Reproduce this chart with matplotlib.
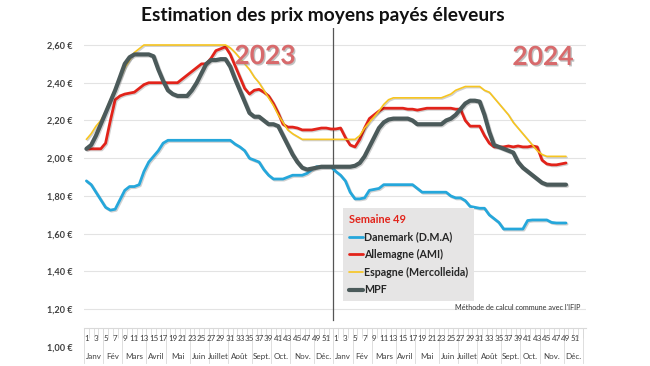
import matplotlib
matplotlib.use("Agg")
import matplotlib.pyplot as plt
import matplotlib.patheffects as pe
import numpy as np

plt.rcParams['font.family'] = ['Lato', 'DejaVu Sans']

# ---- data (weekly prices, 2023 week 1 .. 2024 week 49) ----
danemark = [1.88, 1.86, 1.82, 1.78, 1.74, 1.725, 1.73, 1.78, 1.83, 1.85,
            1.85, 1.86, 1.93, 1.98, 2.01, 2.04, 2.08, 2.095, 2.095, 2.095,
            2.095, 2.095, 2.095, 2.095, 2.095, 2.095, 2.095, 2.095, 2.095, 2.095,
            2.095, 2.075, 2.06, 2.04, 2.00, 1.99, 1.98, 1.94, 1.91, 1.89,
            1.89, 1.89, 1.90, 1.91, 1.91, 1.91, 1.92, 1.94, 1.955, 1.955,
            1.955, 1.955, 1.93, 1.91, 1.88, 1.82, 1.785, 1.785, 1.79, 1.83,
            1.835, 1.84, 1.86, 1.86, 1.86, 1.86, 1.86, 1.86, 1.86, 1.84,
            1.82, 1.82, 1.82, 1.82, 1.82, 1.82, 1.80, 1.79, 1.79, 1.775,
            1.745, 1.74, 1.735, 1.735, 1.70, 1.68, 1.66, 1.625, 1.625, 1.625,
            1.625, 1.625, 1.67, 1.673, 1.673, 1.673, 1.673, 1.66, 1.657, 1.657, 1.657]

allemagne = [2.05, 2.05, 2.05, 2.05, 2.08, 2.20, 2.31, 2.33, 2.34, 2.345,
             2.35, 2.37, 2.39, 2.40, 2.40, 2.40, 2.40, 2.40, 2.40, 2.40,
             2.42, 2.44, 2.46, 2.48, 2.50, 2.50, 2.53, 2.57, 2.58, 2.59,
             2.55, 2.49, 2.43, 2.37, 2.34, 2.36, 2.365, 2.35, 2.33, 2.29,
             2.24, 2.18, 2.165, 2.165, 2.16, 2.15, 2.15, 2.15, 2.155, 2.16,
             2.16, 2.155, 2.155, 2.16, 2.11, 2.07, 2.06, 2.10, 2.16, 2.21,
             2.23, 2.25, 2.265, 2.265, 2.265, 2.265, 2.265, 2.26, 2.26, 2.255,
             2.26, 2.265, 2.265, 2.265, 2.265, 2.265, 2.265, 2.26, 2.26, 2.20,
             2.17, 2.17, 2.17, 2.12, 2.08, 2.06, 2.06, 2.06, 2.065, 2.06,
             2.065, 2.06, 2.06, 2.065, 2.06, 1.99, 1.97, 1.965, 1.965, 1.97, 1.975]

espagne = [2.10, 2.13, 2.17, 2.20, 2.25, 2.31, 2.37, 2.42, 2.48, 2.52,
           2.56, 2.58, 2.60, 2.60, 2.60, 2.60, 2.60, 2.60, 2.60, 2.60,
           2.60, 2.60, 2.60, 2.60, 2.60, 2.60, 2.60, 2.60, 2.60, 2.60,
           2.585, 2.56, 2.53, 2.50, 2.47, 2.43, 2.40, 2.36, 2.32, 2.28,
           2.23, 2.19, 2.15, 2.13, 2.115, 2.10, 2.10, 2.10, 2.10, 2.10,
           2.10, 2.10, 2.10, 2.10, 2.10, 2.10, 2.10, 2.12, 2.16, 2.19,
           2.22, 2.25, 2.285, 2.31, 2.32, 2.32, 2.32, 2.32, 2.32, 2.32,
           2.32, 2.32, 2.32, 2.32, 2.32, 2.33, 2.34, 2.36, 2.37, 2.38,
           2.38, 2.38, 2.38, 2.36, 2.35, 2.32, 2.29, 2.26, 2.23, 2.19,
           2.16, 2.13, 2.10, 2.07, 2.04, 2.02, 2.01, 2.01, 2.01, 2.01, 2.01]

mpf = [2.05, 2.07, 2.12, 2.18, 2.24, 2.30, 2.36, 2.43, 2.50, 2.535,
       2.55, 2.55, 2.55, 2.55, 2.54, 2.47, 2.41, 2.36, 2.34, 2.33,
       2.33, 2.33, 2.36, 2.40, 2.45, 2.50, 2.52, 2.52, 2.525, 2.525,
       2.485, 2.42, 2.36, 2.30, 2.24, 2.22, 2.22, 2.20, 2.18, 2.18,
       2.17, 2.12, 2.07, 2.02, 1.98, 1.95, 1.94, 1.945, 1.95, 1.955,
       1.955, 1.955, 1.955, 1.955, 1.955, 1.955, 1.96, 1.975, 2.01, 2.06,
       2.11, 2.16, 2.19, 2.205, 2.21, 2.21, 2.21, 2.21, 2.20, 2.18,
       2.18, 2.18, 2.18, 2.18, 2.18, 2.20, 2.21, 2.23, 2.26, 2.29,
       2.305, 2.305, 2.30, 2.23, 2.14, 2.07, 2.06, 2.05, 2.04, 2.03,
       1.98, 1.95, 1.93, 1.91, 1.89, 1.87, 1.86, 1.86, 1.86, 1.86, 1.86]

series_names = ["Danemark (D.M.A)", "Allemagne (AMI)", "Espagne (Mercolleida)", "MPF"]
series_colors = ["#25a7db", "#e2231a", "#f7c520", "#4b5a5a"]
series_widths = [2.0, 2.0, 1.2, 3.0]

weeks_per_year = 52
week_labels = [str(w) if w % 2 == 1 else "" for w in range(1, 53)] * 2
months = ["Janv", "Fév", "Mars", "Avril", "Mai", "Juin", "Juillet", "Août",
          "Sept.", "Oct.", "Nov.", "Déc."]
month_weeks = [4, 4, 5, 4, 5, 4, 4, 5, 4, 4, 5, 4]
yticks = [1.0, 1.2, 1.4, 1.6, 1.8, 2.0, 2.2, 2.4, 2.6]

# ---- figure ----
fig = plt.figure(figsize=(6.5, 3.66), dpi=100)
W, H = 650, 366
ax = fig.add_axes([84 / W, 1 - 347 / H, (586 - 84) / W, (347 - 28) / H])
ax.set_xlim(-0.42, 104.17)
ax.set_ylim(1.0, 2.69)

x = np.arange(len(mpf))
data = [danemark, allemagne, espagne, mpf]
handles = []
for vals, name, col, lw in zip(data, series_names, series_colors, series_widths):
    ln, = ax.plot(x, vals, color=col, lw=lw, label=name, solid_joinstyle='round',
                  solid_capstyle='round', zorder=3,
                  path_effects=[pe.SimpleLineShadow(offset=(0.8, -0.8), alpha=0.18), pe.Normal()])
    handles.append(ln)

# grid & y axis
ax.set_yticks(yticks)
ax.set_yticklabels([f"{v:.2f} €".replace(".", ",") for v in yticks],
                   fontsize=6.6, fontweight='bold', color='#404040')
ax.tick_params(axis='y', length=0, pad=8)
for v in yticks[1:]:
    ax.axhline(v, color='#e3e3e3', lw=0.8, zorder=1)
for s in ['left', 'right', 'top']:
    ax.spines[s].set_visible(False)
ax.spines['bottom'].set_position(('data', 1.10))
ax.spines['bottom'].set_color('#d9d9d9')
ax.spines['bottom'].set_linewidth(0.8)

# x axis: week ticks
ntot = 2 * weeks_per_year
ax.set_xticks(np.arange(ntot + 1) - 0.5)
ax.set_xticklabels([""] * (ntot + 1))
ax.tick_params(axis='x', which='major', length=7, color='#d9d9d9', width=0.6)
ax.set_xticks(np.arange(ntot), minor=True)
ax.set_xticklabels(week_labels, minor=True, fontsize=5.8, color='#404040')
ax.tick_params(axis='x', which='minor', length=0, pad=5)

# month labels and separators
start = 0
for yr in range(2):
    for m, nw in zip(months, month_weeks):
        cx = start + (nw - 1) / 2
        ax.text(cx, 0.952, m, ha='center', va='center', fontsize=5.8,
                color='#404040', clip_on=False)
        ax.plot([start - 0.5, start - 0.5], [1.10, 0.915], color='#d9d9d9', lw=0.6,
                clip_on=False, zorder=1)
        start += nw
ax.plot([start - 0.5, start - 0.5], [1.10, 0.915], color='#d9d9d9', lw=0.6,
        clip_on=False, zorder=1)

# year separator
ax.plot([weeks_per_year - 0.5, weeks_per_year - 0.5], [1.145, 2.69], color='#555555',
        lw=0.9, zorder=2)

# year labels
year_fx = [pe.withSimplePatchShadow(offset=(1, -1), shadow_rgbFace='#999999', alpha=0.6)]
fig.text(265 / W, 1 - 56 / H, "2023", ha='center', va='center', fontsize=19,
         fontweight='bold', color='#d86a6c', path_effects=year_fx)
fig.text(543 / W, 1 - 57 / H, "2024", ha='center', va='center', fontsize=19,
         fontweight='bold', color='#d86a6c', path_effects=year_fx)

# title
fig.text(323 / W, 1 - 16 / H, "Estimation des prix moyens payés éleveurs", ha='center',
         va='center', fontsize=13.8, fontweight='bold', color='#111111')

# legend
leg = fig.legend(handles=handles, labels=series_names, loc='upper left',
                 bbox_to_anchor=(343 / W, 1 - 208 / H), bbox_transform=fig.transFigure,
                 borderaxespad=0, frameon=True, fancybox=False,
                 facecolor='#e6e5e5', edgecolor='none', framealpha=1,
                 handlelength=1.3, handletextpad=0.1, borderpad=0.55,
                 labelspacing=0.62, title="Semaine 49", alignment='left',
                 prop={'size': 7.7, 'weight': 'bold'})
leg.get_title().set_color('#e2231a')
leg.get_title().set_fontweight('bold')
leg.get_title().set_fontsize(7.9)
for t in leg.get_texts():
    t.set_color('#262626')
for h in leg.legend_handles:
    h.set_path_effects([])

fig.text(518 / W, 1 - 307 / H, "Méthode de calcul commune avec l'IFIP", ha='center',
         va='center', fontsize=5.2, color='#333333')

fig.savefig("out.png", dpi=100, facecolor='white')
